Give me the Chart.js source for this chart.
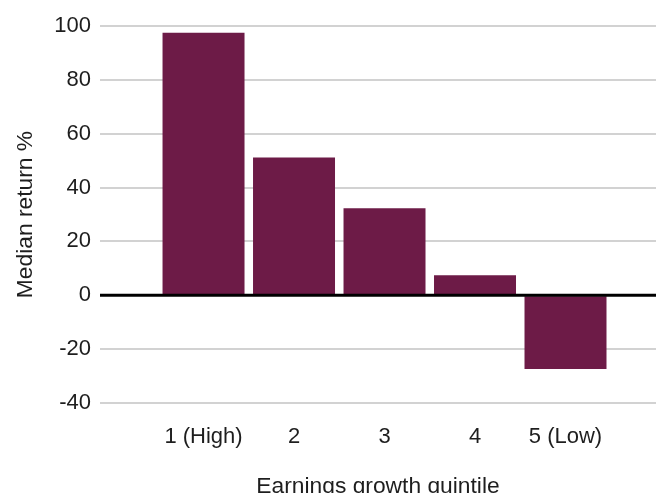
<!DOCTYPE html>
<html>
<head>
<meta charset="utf-8">
<script src="https://cdn.jsdelivr.net/npm/chart.js@4.4.0/dist/chart.umd.min.js"></script>
<style>
  html, body { margin: 0; padding: 0; background: #fff; overflow: hidden; }
  #wrap { width: 656px; height: 500px; position: relative; }
</style>
</head>
<body>
<div id="wrap"><canvas id="chart"></canvas></div>
<script>
// Median return by earnings growth quintile
const quintiles = ['1 (High)', '2', '3', '4', '5 (Low)'];
const medianReturn = [97.5, 51.2, 32.3, 7.4, -27.4];
const yTicks = [-40, -20, 0, 20, 40, 60, 80, 100];

const barColor = '#6d1b47';
const textColor = '#1e1e1e';
const fontFamily = "'Liberation Sans', Arial, Helvetica, sans-serif";

// Black zero line drawn over the bars
const zeroLine = {
  id: 'zeroLine',
  afterDatasetsDraw(chart) {
    const { ctx, chartArea, scales } = chart;
    const y = scales.y.getPixelForValue(0);
    ctx.save();
    ctx.strokeStyle = '#000';
    ctx.lineWidth = 3;
    ctx.beginPath();
    ctx.moveTo(chartArea.left, y);
    ctx.lineTo(chartArea.right, y);
    ctx.stroke();
    ctx.restore();
  }
};

new Chart(document.getElementById('chart'), {
  type: 'bar',
  data: {
    datasets: [{
      data: medianReturn.map((v, i) => ({ x: i, y: v })),
      backgroundColor: barColor,
      borderWidth: 0,
      categoryPercentage: 1,
      barPercentage: 0.906
    }]
  },
  options: {
    responsive: true,
    maintainAspectRatio: false,
    animation: false,
    layout: { padding: { top: 26, right: 0, left: 0, bottom: 0 } },
    plugins: {
      legend: { display: false },
      tooltip: { enabled: false }
    },
    scales: {
      x: {
        type: 'linear',
        offset: false,
        min: -1.144,
        max: 5.0,
        grid: { display: false, drawTicks: false },
        border: { display: false },
        afterBuildTicks(scale) {
          scale.ticks = quintiles.map((_, i) => ({ value: i }));
        },
        afterFit(scale) { scale.height = 97; },
        ticks: {
          color: textColor,
          font: { family: fontFamily, size: 22 },
          padding: 21,
          maxRotation: 0,
          autoSkip: false,
          callback: (v) => quintiles[v] ?? ''
        },
        title: {
          display: true,
          text: 'Earnings growth quintile',
          color: textColor,
          font: { family: fontFamily, size: 22.8 },
          padding: { top: 12, bottom: 0 }
        }
      },
      y: {
        min: -40,
        max: 100,
        afterBuildTicks(scale) {
          scale.ticks = yTicks.map(v => ({ value: v }));
        },
        afterFit(scale) { scale.width = 100; },
        grid: {
          color: '#d2d2d2',
          lineWidth: 2,
          drawTicks: false
        },
        border: { display: false },
        ticks: {
          color: textColor,
          font: { family: fontFamily, size: 22 },
          padding: 9
        },
        title: {
          display: true,
          text: 'Median return %',
          color: textColor,
          font: { family: fontFamily, size: 22.8 },
          padding: { top: 12, bottom: 0 }
        }
      }
    }
  },
  plugins: [zeroLine]
});
</script>
</body>
</html>
